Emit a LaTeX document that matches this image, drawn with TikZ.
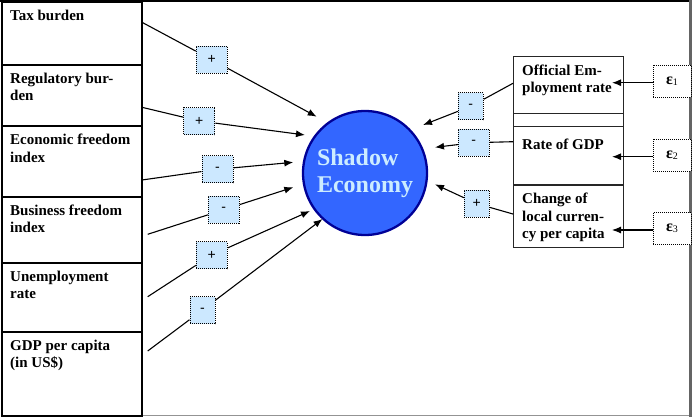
\documentclass[tikz,border=0pt]{standalone}
\usepackage{fontspec}
\setmainfont{Liberation Serif}
\newfontfamily\signfont{Liberation Sans}
\usetikzlibrary{arrows.meta}
\definecolor{circfill}{RGB}{51,102,255}
\definecolor{circline}{RGB}{0,0,150}
\definecolor{circtext}{RGB}{204,236,255}
\definecolor{signfill}{RGB}{204,232,255}
\definecolor{framegray}{RGB}{100,100,100}
\begin{document}
\begin{tikzpicture}[x=1pt,y=-1pt,
  lbox/.style={draw=black, line width=1.8pt, rectangle, inner sep=0pt, anchor=north west},
  rbox/.style={draw=black!85, line width=1.3pt, rectangle, inner sep=0pt, anchor=north west, minimum width=110pt},
  btext/.style={inner sep=0pt, anchor=north west, align=left, font=\fontsize{15}{17.5}\selectfont\bfseries},
  signbox/.style={draw=black, densely dotted, line width=1pt, fill=signfill, inner sep=0pt, minimum height=27pt, minimum width=31pt, font=\signfont\fontsize{14}{16}\selectfont},
  epsbox/.style={draw=black, densely dotted, line width=1pt, fill=white, inner sep=0pt, minimum height=32pt, minimum width=38pt, font=\fontsize{16}{18}\selectfont\bfseries},
  conn/.style={draw=black, line width=1.1pt},
  arr/.style={conn, -{Latex[length=9pt,width=7pt]}}
]
\useasboundingbox (0,0) rectangle (692,417);
% frame
\draw[black, line width=1.2pt] (0,1) -- (692,1);
\draw[framegray!70, line width=0.8pt] (141,415.6) -- (692,415.6);
\draw[framegray, line width=3pt] (690.5,0) -- (690.5,417);

% left boxes
\node[lbox, minimum width=140.3pt, minimum height=63pt] (tax) at (1,1) {};
\node[lbox, minimum width=140.3pt, minimum height=61.3pt] (reg) at (1,64) {};
\node[lbox, minimum width=140.3pt, minimum height=70.7pt] (eco) at (1,125.3) {};
\node[lbox, minimum width=140.3pt, minimum height=66pt] (bus) at (1,196) {};
\node[lbox, minimum width=140.3pt, minimum height=69pt] (une) at (1,262) {};
\node[lbox, minimum width=140.3pt, minimum height=84pt] (gdp) at (1,331) {};

\node[btext] (taxt) at (10,9.5) {Tax burden};
\node[btext] (regt) at (10,72.5) {Regulatory bur-\\den};
\node[btext] (ecot) at (10,134) {Economic freedom\\index};
\node[btext] (bust) at (10,204.5) {Business freedom\\index};
\node[btext] (unet) at (10,270.5) {Unemployment\\rate};
\node[btext] (gdpt) at (10,339.5) {GDP per capita\\(in US\$)};

% circle
\node[circle, draw=circline, line width=2.3pt, fill=circfill, minimum size=124pt, inner sep=0pt,
      text=circtext, align=left, font=\fontsize{24}{27}\selectfont\bfseries] (se) at (365,173) {Shadow\\Economy};

% right boxes
\node[rbox, minimum height=57pt] (off) at (513,55.7) {};
\node[rbox, minimum height=13pt] (strip) at (513,112.7) {};
\node[rbox, minimum height=58.6pt] (rgdp) at (513,125.7) {};
\node[rbox, minimum height=62.4pt] (chg) at (513,184.3) {};

\node[btext] (offt) at (522,64.5) {Official Em-\\ployment rate};
\node[btext] (rgdpt) at (522,138.5) {Rate of GDP};
\node[btext] (chgt) at (522,192.8) {Change of\\local curren-\\cy per capita};

% epsilon boxes
\node[epsbox] (e1) at (672,81.5) {ε\raisebox{-1pt}{\fontsize{10}{12}\selectfont\mdseries 1}};
\node[epsbox] (e2) at (672,155) {ε\raisebox{-1pt}{\fontsize{10}{12}\selectfont\mdseries 2}};
\node[epsbox] (e3) at (672,228.5) {ε\raisebox{-1pt}{\fontsize{10}{12}\selectfont\mdseries 3}};

\coordinate (te1) at (612,82.7);
\coordinate (te2) at (612,156.7);
\coordinate (te3) at (612,230);
\draw[arr] (e1.west |- te1) -- (te1);
\draw[arr] (e2.west |- te2) -- (te2);
\draw[arr] (e3.west |- te3) -- (te3);

% left sign boxes
\node[signbox] (s1) at (211.8,59.7) {+};
\node[signbox] (s2) at (199.3,121) {+};
\node[signbox] (s3) at (217.5,169.3) {-};
\node[signbox] (s4) at (223.8,209.7) {-};
\node[signbox] (s5) at (211.8,255) {+};
\node[signbox, minimum width=25pt] (s6) at (202.5,310) {-};

\coordinate (a1) at (142,22.3);
\coordinate (a2) at (142,107.3);
\coordinate (a3) at (142,180);
\coordinate (a4) at (147.7,234.3);
\coordinate (a5) at (147.7,296.7);
\coordinate (a6) at (147.7,351);
\coordinate (t1) at (316.7,116.7);
\coordinate (t2) at (305,135);
\coordinate (t3) at (293.3,162.3);
\coordinate (t4) at (293.3,187.3);
\coordinate (t5) at (310,211);
\coordinate (t6) at (322.5,219);

\foreach \i in {1,...,6}{
  \draw[conn] (a\i) -- (s\i);
  \draw[arr] (s\i) -- (t\i);
}

% right sign boxes
\node[signbox, minimum width=25pt] (r1) at (470.8,106.3) {-};
\node[signbox] (r2) at (473.8,142.7) {-};
\node[signbox, minimum width=25pt] (r3) at (476.8,203.7) {+};

\coordinate (b1) at (513,83.3);
\coordinate (b2) at (513,141.7);
\coordinate (b3) at (513,214);
\coordinate (u1) at (423,125);
\coordinate (u2) at (435,147.3);
\coordinate (u3) at (435,184.3);

\foreach \i in {1,2,3}{
  \draw[conn] (b\i) -- (r\i);
  \draw[arr] (r\i) -- (u\i);
}
\end{tikzpicture}
\end{document}
